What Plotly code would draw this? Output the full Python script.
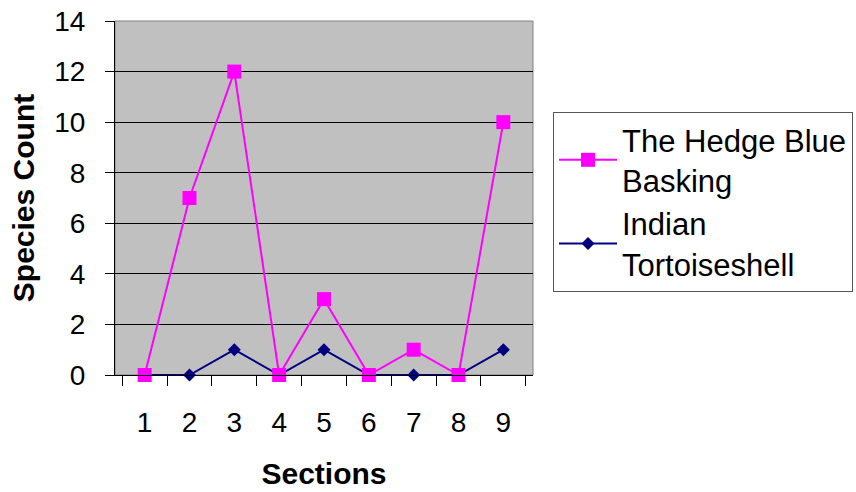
import plotly.graph_objects as go

sections = ["1", "2", "3", "4", "5", "6", "7", "8", "9"]
hedge_blue = [0, 7, 12, 0, 3, 0, 1, 0, 10]
indian_tortoiseshell = [0, 0, 1, 0, 1, 0, 0, 0, 1]
y_ticks = [0, 2, 4, 6, 8, 10, 12, 14]

FONT = "Liberation Sans, Arial, sans-serif"

fig = go.Figure()
# navy drawn first so the pink squares sit on top, legend order fixed by legendrank
fig.add_trace(go.Scatter(
    x=sections, y=indian_tortoiseshell, mode="lines+markers",
    name="Indian<br>Tortoiseshell",
    line=dict(color="#000080", width=2),
    marker=dict(symbol="diamond", size=10, color="#000080"),
    cliponaxis=False, legendrank=2,
))
fig.add_trace(go.Scatter(
    x=sections, y=hedge_blue, mode="lines+markers",
    name="The Hedge Blue<br>Basking",
    line=dict(color="#FF00FF", width=2),
    marker=dict(symbol="square", size=14, color="#FF00FF"),
    cliponaxis=False, legendrank=1,
))

fig.update_layout(
    width=856, height=492,
    margin=dict(l=115, r=856 - 533, t=21, b=492 - 375, autoexpand=False),
    paper_bgcolor="white",
    plot_bgcolor="#C0C0C0",
    font=dict(family=FONT, color="black", size=28),
    showlegend=True,
    legend=dict(
        x=553 / 856, xref="container", y=1 - 112 / 492, yref="container",
        xanchor="left", yanchor="top",
        bordercolor="#555555", borderwidth=1, bgcolor="white",
        font=dict(family=FONT, size=31, color="black"),
        tracegroupgap=0,
        itemwidth=58,
        traceorder="normal",
    ),
    xaxis=dict(
        type="category",
        tickson="boundaries",
        ticks="outside", ticklen=10, tickcolor="black", tickwidth=1,
        showline=True, linecolor="black", linewidth=1,
        showgrid=False, zeroline=False,
        ticklabelstandoff=22,
        title=dict(text="<b>Sections</b>", font=dict(family=FONT, size=30), standoff=26),
        tickfont=dict(family=FONT, size=28),
    ),
    yaxis=dict(
        range=[0, 14],
        tickvals=y_ticks,
        ticks="outside", ticklen=9, tickcolor="black", tickwidth=1,
        showline=True, linecolor="black", linewidth=1,
        showgrid=True, gridcolor="black", gridwidth=1,
        zeroline=False,
        ticklabelstandoff=14,
        ticklabeloverflow="allow",
        title=dict(text="<b>Species Count</b>", font=dict(family=FONT, size=30), standoff=10),
        tickfont=dict(family=FONT, size=28),
    ),
)

fig.add_shape(type="rect", xref="paper", yref="paper", x0=0, x1=1, y0=0, y1=1,
              line=dict(color="#808080", width=1), layer="below")

fig.write_html("out.html", config={"displayModeBar": False},
               post_script="document.body.style.margin='0';")
